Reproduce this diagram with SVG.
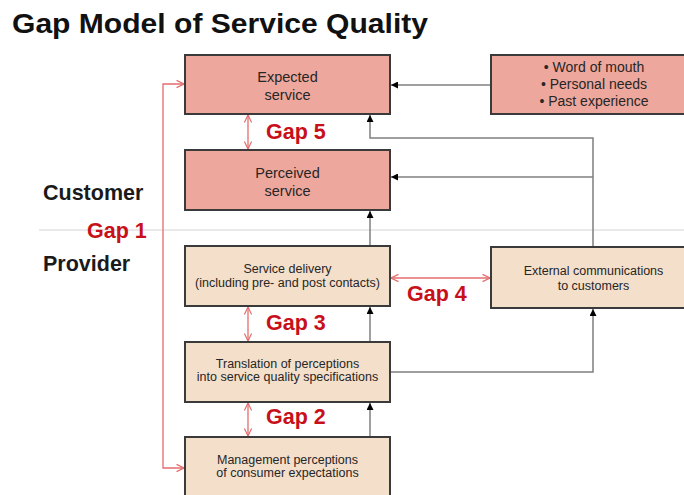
<svg xmlns="http://www.w3.org/2000/svg" width="684" height="495" viewBox="0 0 684 495">
  <style>
    .bg { fill: #ffffff; }
    .pink { fill: #eea79d; stroke: #3a3a3a; stroke-width: 2; }
    .beige { fill: #f4dfcb; stroke: #3a3a3a; stroke-width: 2; }
    .t1 { font-family: "Liberation Sans", Arial, sans-serif; font-size: 14.5px; fill: #262626; text-anchor: middle; }
    .t1s { font-family: "Liberation Sans", Arial, sans-serif; font-size: 14px; fill: #262626; text-anchor: middle; }
    .t2 { font-family: "Liberation Sans", Arial, sans-serif; font-size: 12.5px; fill: #262626; text-anchor: middle; }
    .lbl { font-family: "Liberation Sans", Arial, sans-serif; font-size: 21.5px; font-weight: bold; fill: #1a1a1a; }
    .gap { font-family: "Liberation Sans", Arial, sans-serif; font-size: 21.5px; font-weight: bold; fill: #c8101a; }
    .title { font-family: "Liberation Sans", Arial, sans-serif; font-size: 28px; font-weight: bold; fill: #111111; }
    .gray { fill: none; stroke: #7f7f7f; stroke-width: 1.5; }
    .red { fill: none; stroke: #e46c6c; stroke-width: 1.3; }
    .divider { fill: none; stroke: #d4d4d4; stroke-width: 1; }
  </style>
  <defs>
    <marker id="ah" viewBox="0 0 8 8" refX="8" refY="4" markerWidth="7" markerHeight="7" markerUnits="userSpaceOnUse" orient="auto">
      <path d="M0,0 L8,4 L0,8 z" fill="#000000"/>
    </marker>
    <marker id="rh" viewBox="0 0 10 10" refX="9.3" refY="5" markerWidth="9" markerHeight="10" markerUnits="userSpaceOnUse" orient="auto-start-reverse">
      <path d="M1,1 L9.3,5 L1,9" fill="none" stroke="#e46c6c" stroke-width="1.3"/>
    </marker>
  </defs>

  <rect class="bg" x="0" y="0" width="684" height="495"/>

  <text class="title" x="12" y="33" textLength="416" lengthAdjust="spacingAndGlyphs">Gap Model of Service Quality</text>

  <line class="divider" x1="39" y1="230" x2="684" y2="230"/>

  <text class="lbl" x="43" y="200">Customer</text>
  <text class="lbl" x="43" y="271">Provider</text>

  <g id="connectors">
    <line class="gray" x1="491" y1="85" x2="391" y2="85" marker-end="url(#ah)"/>
    <polyline class="gray" points="593,247 593,138 370,138 370,115" marker-end="url(#ah)"/>
    <line class="gray" x1="593" y1="177" x2="391" y2="177" marker-end="url(#ah)"/>
    <line class="gray" x1="370" y1="246" x2="370" y2="211" marker-end="url(#ah)"/>
    <line class="gray" x1="370" y1="342" x2="370" y2="307" marker-end="url(#ah)"/>
    <line class="gray" x1="370" y1="437" x2="370" y2="403" marker-end="url(#ah)"/>
    <polyline class="gray" points="391,372 593,372 593,309" marker-end="url(#ah)"/>

    <polyline class="red" points="184,84 163,84 163,468 184,468" marker-start="url(#rh)" marker-end="url(#rh)"/>
    <line class="red" x1="248" y1="115" x2="248" y2="149" marker-start="url(#rh)" marker-end="url(#rh)"/>
    <line class="red" x1="248" y1="307" x2="248" y2="341" marker-start="url(#rh)" marker-end="url(#rh)"/>
    <line class="red" x1="248" y1="403" x2="248" y2="436" marker-start="url(#rh)" marker-end="url(#rh)"/>
    <line class="red" x1="391" y1="278" x2="490" y2="278" marker-start="url(#rh)" marker-end="url(#rh)"/>
  </g>

  <g id="expected">
    <rect class="pink" x="185" y="55" width="205" height="59"/>
    <text class="t1" x="287.5" y="82">Expected</text>
    <text class="t1" x="287.5" y="100">service</text>
  </g>

  <g id="perceived">
    <rect class="pink" x="185" y="150" width="205" height="60"/>
    <text class="t1" x="287.5" y="178">Perceived</text>
    <text class="t1" x="287.5" y="196">service</text>
  </g>

  <g id="influences">
    <rect class="pink" x="491" y="55" width="210" height="59"/>
    <text class="t1s" x="594" y="72">• Word of mouth</text>
    <text class="t1s" x="594" y="89">• Personal needs</text>
    <text class="t1s" x="594" y="106">• Past experience</text>
  </g>

  <g id="delivery">
    <rect class="beige" x="185" y="246" width="205" height="60"/>
    <text class="t2" x="287.5" y="273">Service delivery</text>
    <text class="t2" x="287.5" y="287">(including pre- and post contacts)</text>
  </g>

  <g id="external">
    <rect class="beige" x="491" y="247" width="210" height="61"/>
    <text class="t2" x="593.5" y="275">External communications</text>
    <text class="t2" x="593.5" y="290">to customers</text>
  </g>

  <g id="translation">
    <rect class="beige" x="185" y="342" width="205" height="60"/>
    <text class="t2" x="287.5" y="368">Translation of perceptions</text>
    <text class="t2" x="287.5" y="381">into service quality specifications</text>
  </g>

  <g id="management">
    <rect class="beige" x="185" y="437" width="205" height="70"/>
    <text class="t2" x="287.5" y="464">Management perceptions</text>
    <text class="t2" x="287.5" y="477">of consumer expectations</text>
  </g>

  <g id="gap-labels">
    <text class="gap" x="266" y="139">Gap 5</text>
    <text class="gap" x="87" y="238">Gap 1</text>
    <text class="gap" x="407" y="301">Gap 4</text>
    <text class="gap" x="266" y="330">Gap 3</text>
    <text class="gap" x="266" y="424">Gap 2</text>
  </g>
</svg>
